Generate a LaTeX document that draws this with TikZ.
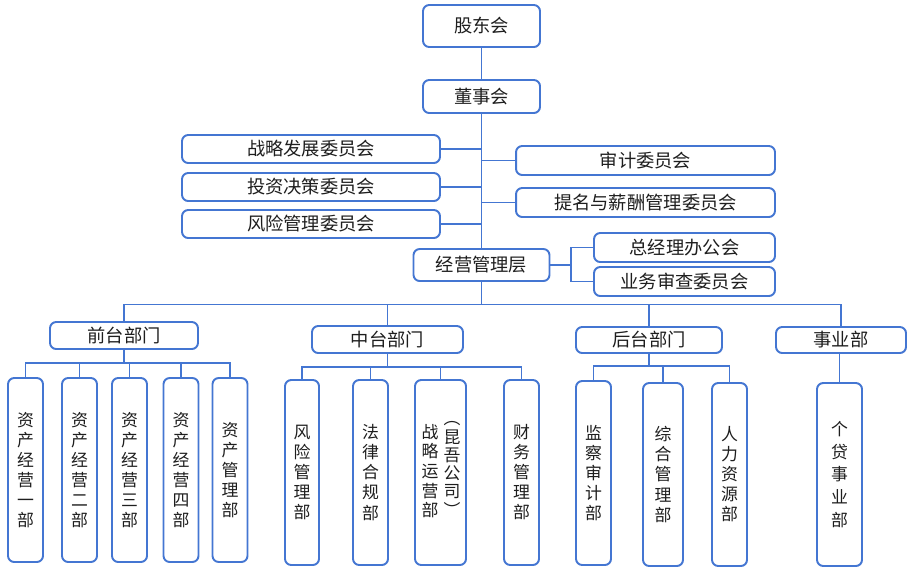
\documentclass[tikz,border=0pt]{standalone}
\usepackage{fontspec}
\setmainfont{Noto Sans CJK SC}
\definecolor{bl}{RGB}{68,118,210}
\definecolor{tx}{RGB}{30,30,30}
\begin{document}
\begin{tikzpicture}[x=0.02cm,y=-0.02cm,
  bx/.style={draw=bl,line width=1.1pt,rounded corners=3.5pt,fill=white,inner sep=0pt,text=tx,
    font=\fontsize{10.4pt}{12pt}\selectfont},
  vb/.style={bx,minimum width=0.7cm,align=center,font=\fontsize{9.6pt}{11.4pt}\selectfont},
  ln/.style={draw=bl,line width=1pt}]
\useasboundingbox (0,0) rectangle (911,572);
% top
\node[bx,minimum width=2.34cm,minimum height=0.84cm] (gd) at (481.5,26) {股东会};
\node[bx,minimum width=2.34cm,minimum height=0.66cm] (dsh) at (481.5,96.5) {董事会};
\node[bx,minimum width=5.16cm,minimum height=0.56cm] (zl) at (311,149) {战略发展委员会};
\node[bx,minimum width=5.16cm,minimum height=0.56cm] (tz) at (311,187) {投资决策委员会};
\node[bx,minimum width=5.16cm,minimum height=0.56cm] (fx) at (311,224) {风险管理委员会};
\node[bx,minimum width=5.18cm,minimum height=0.58cm] (sj) at (645.5,160.5) {审计委员会};
\node[bx,minimum width=5.18cm,minimum height=0.58cm] (tm) at (645.5,202.5) {提名与薪酬管理委员会};
\node[bx,minimum width=2.72cm,minimum height=0.64cm] (jy) at (481.5,265) {经营管理层};
\node[bx,minimum width=3.62cm,minimum height=0.58cm] (zjl) at (684.5,247.5) {总经理办公会};
\node[bx,minimum width=3.62cm,minimum height=0.58cm] (yw) at (684.5,281.5) {业务审查委员会};
% departments
\node[bx,minimum width=2.96cm,minimum height=0.54cm] (qt) at (124,335.5) {前台部门};
\node[bx,minimum width=3.02cm,minimum height=0.54cm] (zt) at (387.5,339.5) {中台部门};
\node[bx,minimum width=2.92cm,minimum height=0.52cm] (ht) at (649,340) {后台部门};
\node[bx,minimum width=2.6cm,minimum height=0.52cm] (sy) at (841,340) {事业部};
% front children
\node[vb,minimum height=3.68cm] (q1) at (25.5,470) {资\\产\\经\\营\\一\\部};
\node[vb,minimum height=3.68cm] (q2) at (79.5,470) {资\\产\\经\\营\\二\\部};
\node[vb,minimum height=3.68cm] (q3) at (129.5,470) {资\\产\\经\\营\\三\\部};
\node[vb,minimum height=3.68cm] (q4) at (181,470) {资\\产\\经\\营\\四\\部};
\node[vb,minimum height=3.68cm] (q5) at (230,470) {资\\产\\管\\理\\部};
% middle children
\node[vb,minimum height=3.7cm,minimum width=0.68cm] (m1) at (302,472.5) {风\\险\\管\\理\\部};
\node[vb,minimum height=3.7cm] (m2) at (370.5,472.5) {法\\律\\合\\规\\部};
\node[bx,minimum height=3.7cm,minimum width=1.02cm] (m3) at (440.5,472.5) {};
\node[text=tx,align=center,inner sep=0pt,font=\fontsize{9.6pt}{11.2pt}\selectfont] (m3a) at (430,471) {战\\略\\运\\营\\部};
\node[text=tx,align=center,inner sep=0pt,font=\fontsize{9.6pt}{10.4pt}\selectfont] (m3b) at (452,469) {︵\\昆\\吾\\公\\司\\︶};
\node[vb,minimum height=3.7cm] (m4) at (521.5,472.5) {财\\务\\管\\理\\部};
% back children
\node[vb,minimum height=3.68cm] (h1) at (593.5,473) {监\\察\\审\\计\\部};
\node[vb,minimum height=3.66cm,minimum width=0.8cm] (h2) at (663,474.5) {综\\合\\管\\理\\部};
\node[vb,minimum height=3.66cm] (h3) at (729.5,474.5) {人\\力\\资\\源\\部};
\node[vb,minimum height=3.66cm,minimum width=0.9cm,font=\fontsize{9.6pt}{12.9pt}\selectfont] (s1) at (839.5,474.5) {个\\贷\\事\\业\\部};
% helper coordinates
\coordinate (tb) at (0,304.5);
\coordinate (jb) at (571,0);
\coordinate (qb) at (0,363);
\coordinate (mb) at (0,367);
\coordinate (hb) at (0,366);
% connectors
\draw[ln] (gd.south) -- (dsh.north);
\draw[ln] (dsh.south) -- (jy.north);
\draw[ln] (zl.east) -- (zl.east -| dsh.south);
\draw[ln] (tz.east) -- (tz.east -| dsh.south);
\draw[ln] (fx.east) -- (fx.east -| dsh.south);
\draw[ln] (sj.west) -- (sj.west -| dsh.south);
\draw[ln] (tm.west) -- (tm.west -| dsh.south);
\draw[ln] (jy.east) -- (jy.east -| jb);
\draw[ln] (zjl.west) -- (zjl.west -| jb) -- (yw.west -| jb) -- (yw.west);
\draw[ln] (jy.south) -- (jy.south |- tb);
\draw[ln] (qt.north) -- (qt.north |- tb) -- (sy.north |- tb) -- (sy.north);
\draw[ln] (zt.north) -- (zt.north |- tb);
\draw[ln] (ht.north) -- (ht.north |- tb);
% front
\draw[ln] (qt.south) -- (qt.south |- qb);
\draw[ln] (q1.north) -- (q1.north |- qb) -- (q5.north |- qb) -- (q5.north);
\draw[ln] (q2.north) -- (q2.north |- qb);
\draw[ln] (q3.north) -- (q3.north |- qb);
\draw[ln] (q4.north) -- (q4.north |- qb);
% middle
\draw[ln] (zt.south) -- (zt.south |- mb);
\draw[ln] (m1.north) -- (m1.north |- mb) -- (m4.north |- mb) -- (m4.north);
\draw[ln] (m2.north) -- (m2.north |- mb);
\draw[ln] (m3.north) -- (m3.north |- mb);
% back
\draw[ln] (ht.south) -- (ht.south |- hb);
\draw[ln] (h1.north) -- (h1.north |- hb) -- (h3.north |- hb) -- (h3.north);
\draw[ln] (h2.north) -- (h2.north |- hb);
% business
\draw[ln] (s1.north) -- (s1.north |- sy.south);
\end{tikzpicture}
\end{document}
